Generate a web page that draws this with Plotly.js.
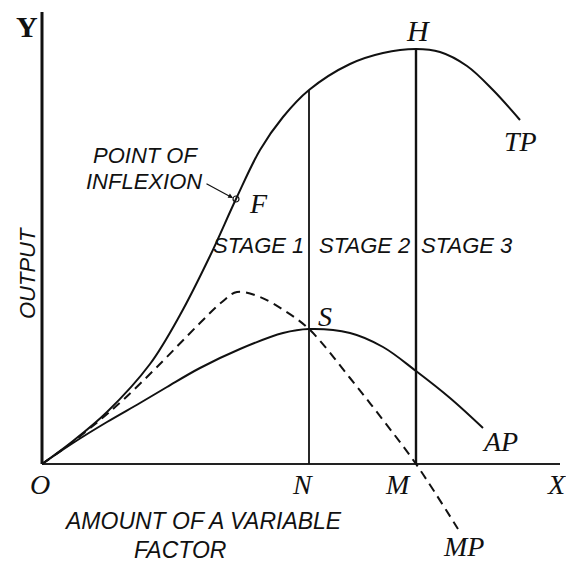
<!DOCTYPE html>
<html>
<head>
<meta charset="utf-8">
<script src="https://cdn.plot.ly/plotly-3.0.1.min.js"></script>
<style>
  html, body { margin: 0; padding: 0; background: #fff; }
  #chart { width: 566px; height: 562px; }
</style>
</head>
<body>
<div id="chart"></div>
<script>
// values (arbitrary units, origin at O)
let tpX = [0, 31, 65, 108, 138, 168, 194, 218, 241, 267, 308, 341, 374, 398, 425, 451, 478];
let tpY = [0, 23, 52, 100, 149, 208, 265, 314, 347, 374, 400, 411, 415, 412, 398, 374, 344];

let mpX = [0, 28, 58, 81, 115, 158, 180, 195, 218, 243, 267, 308, 341, 374, 416];
let mpY = [0, 20, 44, 64, 97, 141, 162, 172, 167, 153, 135, 86, 44, 0, -65];

let apX = [0, 31, 65, 98, 125, 158, 198, 241, 267, 308, 341, 374, 408, 441];
let apY = [0, 21, 42, 61, 77, 96, 115, 131, 135, 131, 117, 93, 66, 36];

// stage boundaries: N (AP max) and M (TP max)
let nX = 267, nTop = 374;
let mX = 374, mTop = 415;
let fPoint = [194, 265];

let axisTop = 452, axisRight = 518;

let graph = document.getElementById('chart');

let serif = 'Liberation Serif, DejaVu Serif, serif';
let sans = 'Liberation Sans, Arial, sans-serif';

let data = [
    {x: [0, 0], y: [0, axisTop], mode: 'lines', line: {color: '#111', width: 3}},
    {x: [0, axisRight], y: [0, 0], mode: 'lines', line: {color: '#222', width: 2}},
    {x: tpX, y: tpY, mode: 'lines', line: {color: '#111', width: 2, shape: 'spline', smoothing: 1}},
    {x: apX, y: apY, mode: 'lines', line: {color: '#111', width: 2, shape: 'spline', smoothing: 1}},
    {x: mpX, y: mpY, mode: 'lines', line: {color: '#111', width: 2, dash: '9px,6px', shape: 'spline', smoothing: 1}},
    {x: [nX, nX], y: [0, nTop], mode: 'lines', line: {color: '#111', width: 1.8}},
    {x: [mX, mX], y: [0, mTop], mode: 'lines', line: {color: '#111', width: 2.4}},
    {x: [fPoint[0]], y: [fPoint[1]], mode: 'markers',
     marker: {symbol: 'circle-open', size: 6, color: '#111', line: {width: 1.2}}}
];

function lbl(text, x, y, size, font, extra) {
    return Object.assign({
        text: text, x: x, y: y, xref: 'x', yref: 'y', showarrow: false,
        font: {family: font, size: size, color: '#111'}
    }, extra || {});
}

let annotations = [
    lbl('<b>Y</b>', -15, 438, 30, serif),
    lbl('<i>H</i>', 376, 434, 30, serif),
    lbl('<i>TP</i>', 478, 323, 28, serif),
    lbl('<i>F</i>', 216, 261, 28, serif),
    lbl('<i>S</i>', 283, 148, 28, serif),
    lbl('<i>AP</i>', 458, 23, 28, serif),
    lbl('<i>MP</i>', 421, -82, 28, serif),
    lbl('<i>O</i>', -2, -20, 28, serif),
    lbl('<i>N</i>', 260, -20, 28, serif),
    lbl('<i>M</i>', 356, -20, 28, serif),
    lbl('<i>X</i>', 514, -20, 28, serif),
    lbl('<i>POINT OF</i>', 103, 309, 22, sans),
    lbl('<i>INFLEXION</i>', 102, 283, 22, sans),
    lbl('<i>STAGE 1</i>', 216, 219, 22, sans),
    lbl('<i>STAGE 2</i>', 322, 219, 22, sans),
    lbl('<i>STAGE 3</i>', 425, 219, 22, sans),
    lbl('<i>OUTPUT</i>', -15, 191, 22, sans, {textangle: -90}),
    lbl('<i>AMOUNT OF A VARIABLE</i>', 161, -57, 23, sans),
    lbl('<i>FACTOR</i>', 138, -86, 23, sans),
    {x: fPoint[0] - 3, y: fPoint[1] + 1, xref: 'x', yref: 'y', ax: 163, ay: 281,
     axref: 'x', ayref: 'y', text: '', showarrow: true, arrowhead: 2,
     arrowsize: 0.8, arrowwidth: 1.2, arrowcolor: '#111'}
];

let layout = {
    width: 566,
    height: 562,
    margin: {l: 0, r: 0, t: 0, b: 0},
    paper_bgcolor: '#fff',
    plot_bgcolor: '#fff',
    showlegend: false,
    xaxis: {range: [-42, 524], visible: false, fixedrange: true},
    yaxis: {range: [-98, 464], visible: false, fixedrange: true},
    annotations: annotations
};

Plotly.newPlot(graph, data, layout, {staticPlot: true});
</script>
</body>
</html>
